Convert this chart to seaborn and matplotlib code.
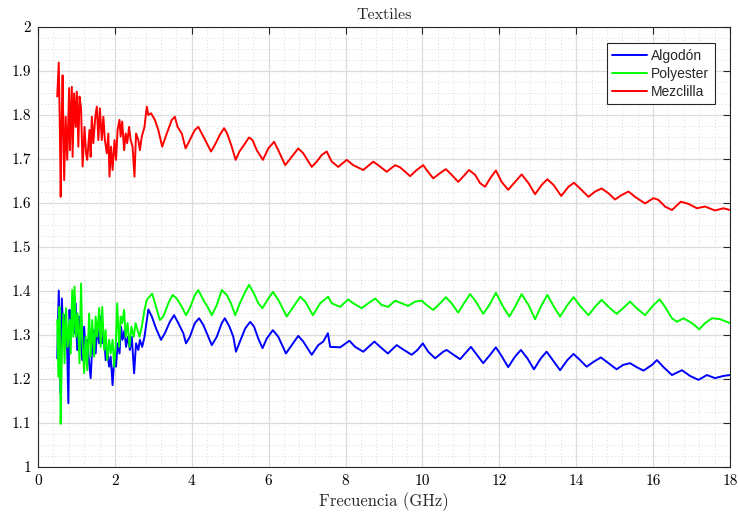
import matplotlib
matplotlib.use("Agg")
import matplotlib.pyplot as plt
import pandas as pd
import seaborn as sns
from matplotlib.ticker import MultipleLocator, FuncFormatter
from matplotlib.lines import Line2D

# ---------------- data ----------------
labels = ["Algodón", "Polyester", "Mezclilla"]
colors = ["#0000ff", "#00ff00", "#ff0000"]

mezclilla_f = [0.50, 0.54, 0.57, 0.59, 0.62, 0.64, 0.68, 0.72, 0.76, 0.81,
               0.83, 0.88, 0.90, 0.94, 0.98, 1.01, 1.05, 1.08, 1.12, 1.16,
               1.21, 1.25, 1.28, 1.34, 1.37, 1.40, 1.44, 1.49, 1.53, 1.57,
               1.61, 1.66, 1.70, 1.74, 1.79, 1.83, 1.86, 1.90, 1.94, 1.99,
               2.03, 2.07, 2.12, 2.15, 2.19, 2.24, 2.28, 2.32, 2.37, 2.41,
               2.46, 2.51, 2.55, 2.61, 2.65, 2.70, 2.77, 2.83, 2.87, 2.94,
               3.04, 3.13, 3.23, 3.35, 3.48, 3.56, 3.63, 3.74, 3.84, 3.95,
               4.08, 4.17, 4.26, 4.39, 4.50, 4.60, 4.73, 4.84, 4.92, 5.04,
               5.14, 5.24, 5.36, 5.49, 5.58, 5.69, 5.85, 5.99, 6.14, 6.25,
               6.43, 6.60, 6.77, 6.90, 7.12, 7.25, 7.38, 7.51, 7.64, 7.81,
               8.03, 8.20, 8.46, 8.72, 8.85, 9.07, 9.29, 9.42, 9.68, 9.85,
               10.02, 10.11, 10.28, 10.46, 10.61, 10.76, 10.93, 11.06, 11.21, 11.37,
               11.50, 11.63, 11.76, 11.91, 12.06, 12.23, 12.41, 12.58, 12.76, 12.93,
               13.10, 13.25, 13.41, 13.61, 13.80, 13.94, 14.10, 14.32, 14.49, 14.66,
               14.84, 15.01, 15.18, 15.36, 15.53, 15.79, 16.01, 16.14, 16.31, 16.49,
               16.72, 16.92, 17.14, 17.35, 17.61, 17.83, 18.0]
mezclilla_v = [1.842, 1.919, 1.76, 1.614, 1.81, 1.89, 1.652, 1.796, 1.698, 1.861,
               1.72, 1.864, 1.705, 1.849, 1.773, 1.853, 1.728, 1.842, 1.815, 1.683,
               1.773, 1.713, 1.698, 1.766, 1.705, 1.796, 1.736, 1.796, 1.819, 1.743,
               1.815, 1.743, 1.796, 1.743, 1.713, 1.758, 1.66, 1.728, 1.675, 1.743,
               1.698, 1.766, 1.789, 1.751, 1.785, 1.72, 1.758, 1.736, 1.773, 1.743,
               1.728, 1.66, 1.758, 1.743, 1.72, 1.751, 1.773, 1.819, 1.80, 1.804,
               1.789, 1.766, 1.728, 1.758, 1.789, 1.796, 1.773, 1.758, 1.724, 1.743,
               1.766, 1.773, 1.758, 1.736, 1.717, 1.732, 1.755, 1.77, 1.758, 1.728,
               1.698, 1.717, 1.732, 1.749, 1.743, 1.72, 1.698, 1.724, 1.739, 1.72,
               1.686, 1.705, 1.724, 1.713, 1.682, 1.694, 1.709, 1.717, 1.694, 1.682,
               1.698, 1.686, 1.675, 1.694, 1.686, 1.671, 1.686, 1.681, 1.661, 1.675,
               1.686, 1.675, 1.656, 1.668, 1.677, 1.664, 1.648, 1.66, 1.675, 1.664,
               1.645, 1.637, 1.656, 1.674, 1.648, 1.63, 1.648, 1.665, 1.645, 1.62,
               1.641, 1.654, 1.641, 1.616, 1.637, 1.646, 1.633, 1.614, 1.626, 1.633,
               1.622, 1.608, 1.618, 1.626, 1.614, 1.599, 1.611, 1.607, 1.592, 1.584,
               1.603, 1.598, 1.588, 1.592, 1.583, 1.588, 1.584]

algodon_f = [0.50, 0.54, 0.57, 0.59, 0.62, 0.66, 0.70, 0.75, 0.79, 0.82,
             0.85, 0.89, 0.94, 0.98, 1.02, 1.07, 1.11, 1.15, 1.20, 1.24,
             1.28, 1.33, 1.37, 1.41, 1.46, 1.50, 1.54, 1.59, 1.63, 1.67,
             1.72, 1.76, 1.80, 1.85, 1.89, 1.94, 1.99, 2.03, 2.07, 2.12,
             2.16, 2.20, 2.25, 2.29, 2.34, 2.39, 2.44, 2.50, 2.55, 2.61,
             2.65, 2.71, 2.77, 2.83, 2.87, 2.96, 3.07, 3.20, 3.30, 3.43,
             3.54, 3.65, 3.78, 3.85, 3.95, 4.08, 4.19, 4.30, 4.43, 4.52,
             4.65, 4.78, 4.86, 4.98, 5.08, 5.15, 5.27, 5.39, 5.52, 5.62,
             5.73, 5.84, 5.95, 6.11, 6.25, 6.45, 6.60, 6.77, 6.90, 7.12,
             7.29, 7.42, 7.54, 7.60, 7.86, 8.10, 8.25, 8.46, 8.75, 8.90,
             9.10, 9.33, 9.50, 9.72, 9.87, 10.01, 10.15, 10.33, 10.54, 10.63,
             10.76, 10.98, 11.11, 11.26, 11.39, 11.58, 11.76, 11.91, 12.06, 12.23,
             12.41, 12.56, 12.73, 12.90, 13.08, 13.23, 13.39, 13.58, 13.77, 13.93,
             14.10, 14.27, 14.45, 14.64, 14.84, 15.05, 15.22, 15.40, 15.57, 15.75,
             15.97, 16.10, 16.27, 16.49, 16.75, 16.96, 17.18, 17.40, 17.61, 17.83,
             18.0]
algodon_v = [1.247, 1.401, 1.273, 1.167, 1.383, 1.296, 1.345, 1.304, 1.145, 1.357,
             1.296, 1.38, 1.304, 1.372, 1.266, 1.342, 1.296, 1.243, 1.319, 1.258,
             1.289, 1.236, 1.202, 1.273, 1.311, 1.258, 1.319, 1.281, 1.342, 1.281,
             1.296, 1.243, 1.266, 1.228, 1.251, 1.186, 1.258, 1.228, 1.281, 1.258,
             1.319, 1.289, 1.311, 1.273, 1.296, 1.266, 1.296, 1.213, 1.281, 1.266,
             1.289, 1.273, 1.296, 1.334, 1.358, 1.342, 1.315, 1.289, 1.304, 1.330,
             1.345, 1.327, 1.304, 1.281, 1.296, 1.327, 1.338, 1.323, 1.296, 1.277,
             1.296, 1.327, 1.338, 1.319, 1.296, 1.262, 1.289, 1.315, 1.330, 1.319,
             1.292, 1.27, 1.292, 1.311, 1.296, 1.258, 1.277, 1.298, 1.285, 1.255,
             1.277, 1.285, 1.304, 1.273, 1.272, 1.287, 1.273, 1.262, 1.285, 1.273,
             1.258, 1.277, 1.267, 1.255, 1.266, 1.281, 1.262, 1.247, 1.262, 1.266,
             1.258, 1.245, 1.258, 1.273, 1.258, 1.236, 1.255, 1.272, 1.252, 1.227,
             1.251, 1.266, 1.247, 1.222, 1.247, 1.262, 1.243, 1.22, 1.243, 1.257,
             1.243, 1.228, 1.239, 1.249, 1.236, 1.222, 1.232, 1.236, 1.227, 1.219,
             1.232, 1.243, 1.227, 1.209, 1.220, 1.207, 1.198, 1.209, 1.202, 1.207,
             1.209]

polyester_f = [0.50, 0.53, 0.56, 0.59, 0.62, 0.66, 0.69, 0.73, 0.77, 0.82,
               0.85, 0.89, 0.92, 0.95, 0.99, 1.03, 1.08, 1.12, 1.15, 1.20,
               1.24, 1.28, 1.33, 1.37, 1.41, 1.46, 1.50, 1.54, 1.59, 1.63,
               1.67, 1.72, 1.76, 1.80, 1.85, 1.89, 1.94, 1.98, 2.02, 2.06,
               2.11, 2.15, 2.19, 2.24, 2.28, 2.33, 2.38, 2.43, 2.49, 2.54,
               2.59, 2.64, 2.70, 2.77, 2.83, 2.90, 2.97, 3.07, 3.17, 3.26,
               3.39, 3.50, 3.61, 3.74, 3.85, 3.95, 4.08, 4.17, 4.30, 4.43,
               4.52, 4.65, 4.78, 4.91, 5.02, 5.13, 5.25, 5.39, 5.49, 5.62,
               5.73, 5.84, 5.97, 6.11, 6.25, 6.47, 6.64, 6.82, 6.95, 7.15,
               7.34, 7.55, 7.64, 7.86, 8.07, 8.20, 8.42, 8.59, 8.77, 8.94,
               9.11, 9.29, 9.46, 9.63, 9.81, 9.98, 10.11, 10.28, 10.46, 10.61,
               10.76, 10.93, 11.08, 11.24, 11.39, 11.58, 11.74, 11.91, 12.10, 12.26,
               12.41, 12.58, 12.76, 12.93, 13.10, 13.25, 13.42, 13.58, 13.77, 13.93,
               14.10, 14.32, 14.49, 14.66, 14.84, 15.05, 15.22, 15.40, 15.57, 15.79,
               16.01, 16.17, 16.31, 16.49, 16.62, 16.79, 17.01, 17.20, 17.35, 17.53,
               17.74, 18.0]
polyester_v = [1.334, 1.205, 1.364, 1.098, 1.258, 1.349, 1.236, 1.361, 1.273, 1.334,
               1.258, 1.402, 1.296, 1.41, 1.296, 1.349, 1.236, 1.417, 1.296, 1.213,
               1.296, 1.22, 1.349, 1.251, 1.334, 1.251, 1.342, 1.296, 1.361, 1.273,
               1.364, 1.266, 1.311, 1.243, 1.289, 1.258, 1.289, 1.228, 1.273, 1.372,
               1.273, 1.342, 1.327, 1.357, 1.296, 1.327, 1.273, 1.319, 1.296, 1.327,
               1.311, 1.296, 1.319, 1.357, 1.38, 1.387, 1.394, 1.364, 1.334, 1.342,
               1.372, 1.391, 1.383, 1.364, 1.345, 1.361, 1.391, 1.402, 1.38, 1.361,
               1.345, 1.368, 1.402, 1.391, 1.372, 1.345, 1.372, 1.398, 1.414, 1.394,
               1.372, 1.361, 1.38, 1.398, 1.38, 1.342, 1.364, 1.387, 1.376, 1.345,
               1.372, 1.387, 1.372, 1.364, 1.381, 1.372, 1.361, 1.372, 1.383, 1.368,
               1.364, 1.378, 1.372, 1.366, 1.376, 1.378, 1.368, 1.357, 1.372, 1.386,
               1.372, 1.351, 1.372, 1.393, 1.376, 1.348, 1.368, 1.396, 1.364, 1.342,
               1.364, 1.393, 1.368, 1.336, 1.368, 1.391, 1.364, 1.342, 1.368, 1.386,
               1.366, 1.345, 1.364, 1.38, 1.364, 1.348, 1.361, 1.376, 1.361, 1.345,
               1.368, 1.381, 1.364, 1.338, 1.330, 1.338, 1.327, 1.313, 1.327, 1.338,
               1.336, 1.327]

x_ticks = [0, 2, 4, 6, 8, 10, 12, 14, 16, 18]
y_ticks = [1.0, 1.1, 1.2, 1.3, 1.4, 1.5, 1.6, 1.7, 1.8, 1.9, 2.0]

# ---------------- build long-form table ----------------
df = pd.concat([
    pd.DataFrame({"f": algodon_f, "v": algodon_v, "material": labels[0]}),
    pd.DataFrame({"f": polyester_f, "v": polyester_v, "material": labels[1]}),
    pd.DataFrame({"f": mezclilla_f, "v": mezclilla_v, "material": labels[2]}),
], ignore_index=True)

sns.set_theme(style="white")
plt.rcParams["font.family"] = ["cmr10", "DejaVu Serif"]
plt.rcParams["mathtext.fontset"] = "cm"
plt.rcParams["axes.formatter.use_mathtext"] = True

W, H = 738, 517
fig = plt.figure(figsize=(W / 100, H / 100), dpi=100)
ax = fig.add_axes([38 / W, 50 / H, 692 / W, 440 / H])

sns.lineplot(data=df, x="f", y="v", hue="material", hue_order=labels,
             palette=dict(zip(labels, colors)), estimator=None, sort=False,
             linewidth=1.4, ax=ax, legend=False)

ax.set_xlim(0, 18)
ax.set_ylim(1, 2)
ax.set_xticks(x_ticks)
ax.set_yticks(y_ticks)
ax.xaxis.set_minor_locator(MultipleLocator(0.4))
ax.yaxis.set_minor_locator(MultipleLocator(0.025))
fmt = FuncFormatter(lambda v, p: "%g" % round(v, 3))
ax.xaxis.set_major_formatter(fmt)
ax.yaxis.set_major_formatter(fmt)

ax.grid(True, which="major", color="#dcdcdc", linestyle="-", linewidth=0.9)
ax.grid(True, which="minor", color="#cccccc", linestyle=(0, (1, 3)), linewidth=0.6)
ax.set_axisbelow(True)

for s in ax.spines.values():
    s.set_color("#262626")
    s.set_linewidth(0.8)
ax.tick_params(which="major", direction="in", length=5, width=0.8, color="#262626",
               top=True, right=True, labelsize=11, pad=5, labelcolor="#000000")
ax.tick_params(which="minor", length=0, top=True, right=True)

ax.set_xlabel("Frecuencia (GHz)", fontsize=12, labelpad=3)
ax.set_ylabel("")
ax.set_title("Textiles", fontsize=11.5, pad=6)

handles = [Line2D([0], [0], color=c, linewidth=1.4) for c in colors]
leg = ax.legend(handles, labels, loc="upper right",
                bbox_to_anchor=(1 - 15 / 692, 1 - 16 / 440), borderaxespad=0,
                frameon=True, fancybox=False, edgecolor="#262626", framealpha=1,
                prop={"family": ["Liberation Sans", "DejaVu Sans"], "size": 10},
                handlelength=2.5, handletextpad=0.3, labelspacing=0.3,
                borderpad=0.4)
leg.get_frame().set_linewidth(0.8)

fig.savefig("out.png", dpi=100)
